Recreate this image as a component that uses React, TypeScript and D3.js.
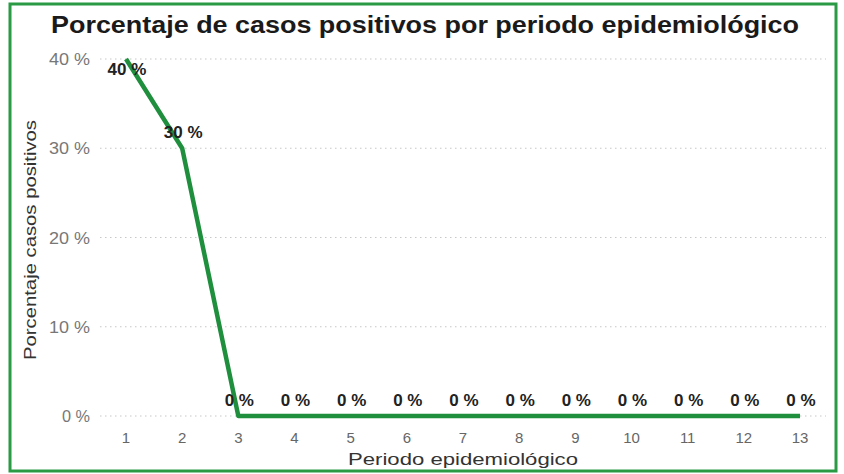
import React from "react";
import * as d3 from "d3";

const periods = [1, 2, 3, 4, 5, 6, 7, 8, 9, 10, 11, 12, 13];
const values = [40, 30, 0, 0, 0, 0, 0, 0, 0, 0, 0, 0, 0];
const yTicks = [0, 10, 20, 30, 40];
const title = "Porcentaje de casos positivos por periodo epidemiológico";
const xTitle = "Periodo epidemiológico";
const yTitle = "Porcentaje casos positivos";

export default function App() {
  const W = 844, H = 474;
  const x = d3.scaleLinear().domain([1, 13]).range([126, 800]);
  const y = d3.scaleLinear().domain([0, 40]).range([416, 59]);
  const line = d3.line<number>().x((_, i) => x(periods[i])).y((d) => y(d));
  const green = "#1f8f3e";
  return (
    <svg width={W} height={H} style={{ position: "absolute", left: 0, top: 0 }} fontFamily="'Liberation Sans', Arial, sans-serif">
      <rect x={0} y={0} width={W} height={H} fill="#fff" />
      <rect x={10} y={4} width={826} height={467} fill="none" stroke="#2a9a45" strokeWidth={3} />
      <text x={425} y={33} textAnchor="middle" fontSize={23} fontWeight="bold" fill="#1a1a1a" textLength={748} lengthAdjust="spacingAndGlyphs">{title}</text>
      {yTicks.map((t) => (
        <g key={t}>
          <line x1={100} x2={826} y1={y(t)} y2={y(t)} stroke="#c8c8c8" strokeDasharray="1.5,3.5" strokeWidth={1.2} />
          <text x={90} y={y(t) + 6} textAnchor="end" fontSize={16} fill="#777" textLength={t === 0 ? 28 : 41} lengthAdjust="spacingAndGlyphs">{t} %</text>
        </g>
      ))}
      {periods.map((p) => (
        <text key={p} x={x(p)} y={443} textAnchor="middle" fontSize={15} fill="#666">{p}</text>
      ))}
      <text x={463} y={465} textAnchor="middle" fontSize={17} fill="#333" textLength={230} lengthAdjust="spacingAndGlyphs">{xTitle}</text>
      <text transform={`translate(36,240) rotate(-90)`} textAnchor="middle" fontSize={16} fill="#333" textLength={240} lengthAdjust="spacingAndGlyphs">{yTitle}</text>
      <path d={line(values) || ""} fill="none" stroke={green} strokeWidth={4.5} strokeLinejoin="round" />
      {values.map((v, i) => {
        const cy = Math.max(y(v) - 10, 75);
        return (
          <text key={i} x={x(periods[i]) + 1} y={cy} textAnchor="middle" fontSize={17} fontWeight="bold" fill="#222">{v} %</text>
        );
      })}
    </svg>
  );
}
